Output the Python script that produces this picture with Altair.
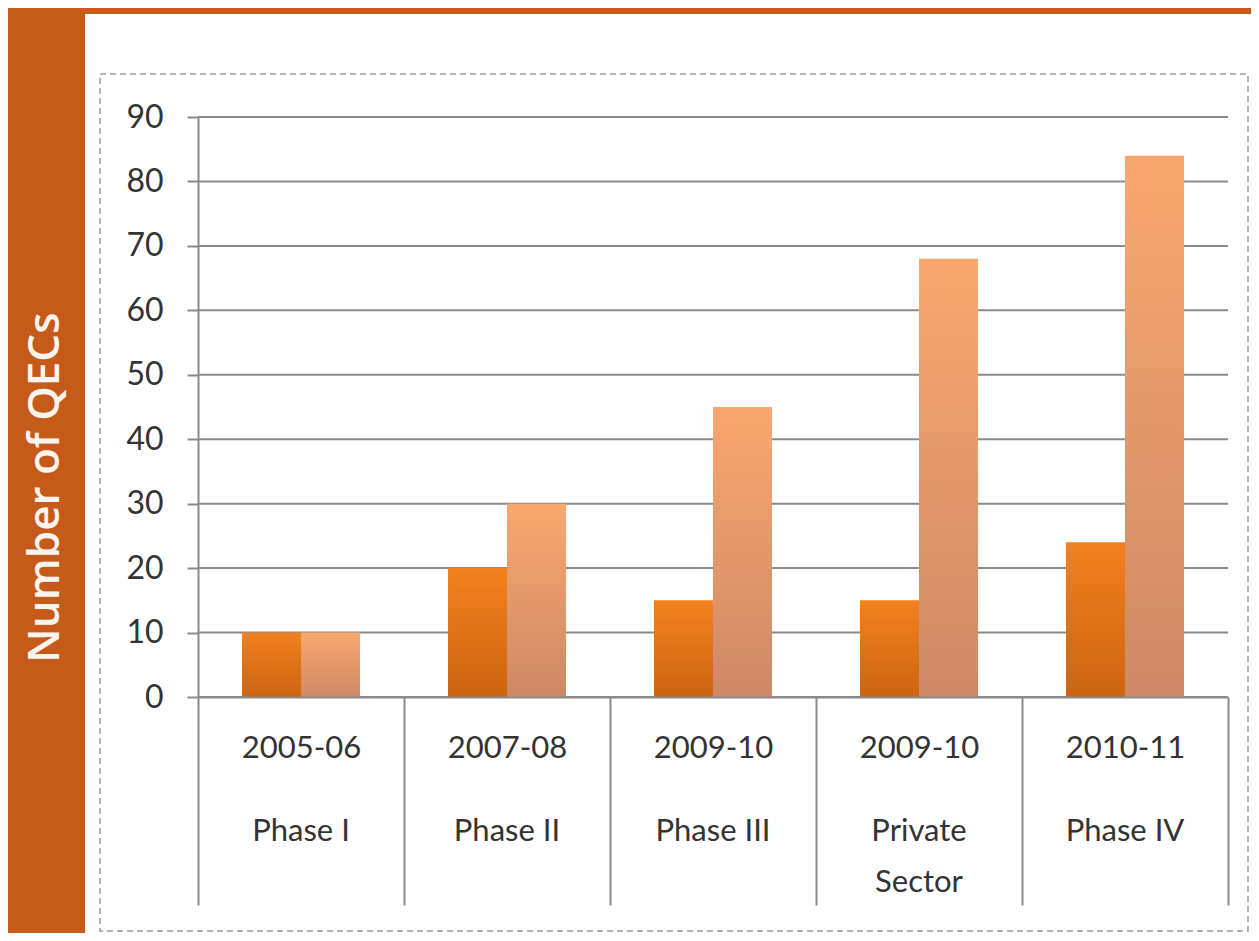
import altair as alt
import pandas as pd

# ---- data ----
years = ["2005-06", "2007-08", "2009-10", "2009-10", "2010-11"]
phases = ["Phase I", "Phase II", "Phase III", "Private\nSector", "Phase IV"]
series_names = ["Series 1", "Series 2"]
series1 = [10, 20, 15, 15, 24]
series2 = [10, 30, 45, 68, 84]
y_ticks = [0, 10, 20, 30, 40, 50, 60, 70, 80, 90]

cats = [f"{y}|{p}" for y, p in zip(years, phases)]
rows = []
for c, a, b in zip(cats, series1, series2):
    rows.append({"cat": c, "series": series_names[0], "value": a})
    rows.append({"cat": c, "series": series_names[1], "value": b})
df = pd.DataFrame(rows)
grid_df = pd.DataFrame({"value": y_ticks})
phase_df = pd.DataFrame({"cat": cats, "phase": phases})

ORANGE = "#C65A1B"
GRAY = "#8A8A8A"
TXT = "#333333"
W, H = 1030, 580

x_scale = alt.Scale(paddingInner=0, paddingOuter=0)
x_enc = alt.X(
    "cat:N", sort=cats, scale=x_scale,
    axis=alt.Axis(
        title=None, labelExpr="split(datum.label,'|')[0]", labelFont="Lato",
        labelFontSize=31, labelColor=TXT, labelPadding=-172,
        labelBaseline="top", labelAngle=0, labelOverlap=False,
        tickBand="extent", tickSize=208, tickColor=GRAY, tickWidth=2,
        domainColor=GRAY, domainWidth=2, grid=False, zindex=1,
    ),
)
xoff_enc = alt.XOffset(
    "series:N",
    scale=alt.Scale(domain=series_names, paddingInner=0, paddingOuter=0.746),
)
y_enc = alt.Y(
    "value:Q",
    scale=alt.Scale(domain=[0, 90], nice=False),
    axis=alt.Axis(
        title="Number of QECs", values=y_ticks, labelFont="Lato", labelFontSize=32,
        labelColor=TXT, labelPadding=24, tickSize=11, tickColor=GRAY,
        tickWidth=2, domainColor=GRAY, domainWidth=2, grid=False, zindex=1,
        titleX=-153, titleY=370, titleAngle=270, titleAlign="center",
        titleBaseline="middle", titleFont="Open Sans", titleFontSize=44,
        titleFontWeight=600, titleColor="#FFF4EC",
    ),
)

one = alt.Data(values=[{"k": 1}])

panel = alt.Chart(one).mark_rect(color="white").encode(
    x=alt.value(-113), x2=alt.value(W + 23), y=alt.value(-103), y2=alt.value(H + 236)
)
border = alt.Chart(one).mark_rect(
    filled=False, stroke="#9A9A9A", strokeWidth=1.5, strokeDash=[6, 4]
).encode(
    x=alt.value(-98), x2=alt.value(W + 20), y=alt.value(-43), y2=alt.value(H + 234)
)
grid = alt.Chart(grid_df).mark_rule(color=GRAY, strokeWidth=2).encode(
    y=alt.Y("value:Q")
)

dark = alt.LinearGradient(
    gradient="linear",
    stops=[alt.GradientStop(color="#F2811F", offset=0),
           alt.GradientStop(color="#CC6411", offset=1)],
    x1=0, x2=0, y1=0, y2=1,
)
light = alt.LinearGradient(
    gradient="linear",
    stops=[alt.GradientStop(color="#F9A76F", offset=0),
           alt.GradientStop(color="#CD8966", offset=1)],
    x1=0, x2=0, y1=0, y2=1,
)

bars1 = alt.Chart(df).transform_filter(
    alt.datum.series == series_names[0]
).mark_bar(color=dark).encode(x=x_enc, xOffset=xoff_enc, y=y_enc)
bars2 = alt.Chart(df).transform_filter(
    alt.datum.series == series_names[1]
).mark_bar(color=light).encode(x=x_enc, xOffset=xoff_enc, y=y_enc)

# second row of the category axis (phase names)
phase_text = alt.Chart(phase_df).mark_text(
    font="Lato", fontSize=31, color=TXT, baseline="top", align="center",
    lineBreak="\n", lineHeight=51,
).encode(
    x=alt.X("cat:N", sort=cats, scale=x_scale),
    text="phase:N",
    y=alt.value(H + 120),
)

chart = alt.layer(panel, border, grid, bars1, bars2, phase_text).properties(
    width=W, height=H,
    padding={"left": 190, "top": 109, "right": 23, "bottom": 236},
    autosize=alt.AutoSizeParams(type="none"),
).configure(background=ORANGE).configure_view(stroke=None)

chart.save("out.html", embed_options={"renderer": "svg", "actions": False})
